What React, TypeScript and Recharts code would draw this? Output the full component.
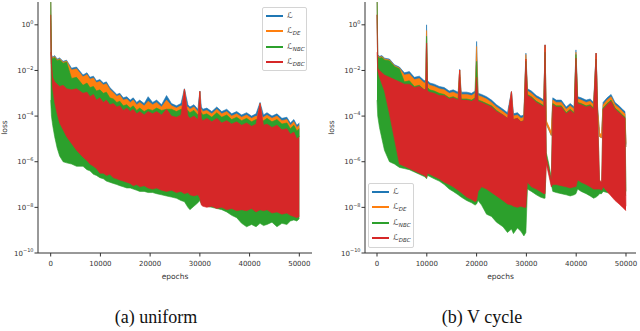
import { ComposedChart, Area, XAxis, YAxis, Legend } from "recharts";

// Values are log10(loss).
// Each series is drawn as a band (lo..top) so the dense curves read as filled regions.

// (a) uniform
const uniformEpochs = [
  0, 150, 400, 800, 1300, 1800, 2500, 3200,
  4200, 5200, 6500, 7300, 7900, 8600, 9200, 9900,
  10600, 11200, 11900, 12600, 13300, 13900, 14600, 15300,
  16000, 16600, 17300, 17900, 18800, 19600, 20500, 21300,
  22300, 23300, 24300, 25300, 26200, 26900, 27600, 28000,
  28800, 29600, 30000, 30300, 30600, 31400, 32400, 33400,
  34400, 35400, 36400, 37400, 38400, 39400, 40400, 41300,
  42100, 42800, 43500, 44500, 45500, 46500, 47500, 48200,
  48900, 49500, 50000,
];
const uniformLossTop = [
  1.5, -1.3, -1.42, -1.35, -1.5, -1.45, -1.6, -1.55,
  -1.9, -1.85, -2.2, -2.1, -2.3, -2.25, -2.45, -2.4,
  -2.55, -2.5, -2.75, -2.9, -3.05, -3.0, -3.2, -3.15,
  -3.3, -3.2, -3.4, -3.3, -3.45, -3.15, -3.4, -3.3,
  -3.5, -3.1, -3.45, -3.55, -3.45, -2.8, -3.5, -3.6,
  -3.5, -3.7, -2.9, -3.6, -3.7, -3.65, -3.8, -3.6,
  -3.8, -3.7, -3.9, -3.8, -3.95, -3.85, -4.0, -3.9,
  -3.4, -3.95, -3.85, -4.0, -3.9, -4.1, -4.05, -4.3,
  -4.15, -4.4, -4.3,
];
const uniformDeTop = [
  1.5, -1.34, -1.46, -1.39, -1.54, -1.49, -1.64, -1.59,
  -1.98, -1.93, -2.28, -2.18, -2.38, -2.33, -2.53, -2.48,
  -2.63, -2.58, -2.83, -2.98, -3.13, -3.08, -3.3, -3.25,
  -3.4, -3.3, -3.5, -3.4, -3.55, -3.35, -3.5, -3.4,
  -3.6, -3.3, -3.55, -3.65, -3.55, -3.6, -3.6, -3.7,
  -3.6, -3.8, -3.7, -3.7, -3.8, -3.75, -3.9, -3.7,
  -3.9, -3.8, -4.0, -3.9, -4.05, -3.95, -4.1, -4.0,
  -4.05, -4.05, -3.95, -4.1, -4.0, -4.2, -4.15, -4.4,
  -4.25, -4.5, -4.4,
];
const uniformNbcTop = [
  1.5, -1.38, -1.5, -1.43, -1.58, -1.53, -1.68, -1.63,
  -2.35, -2.3, -2.65, -2.55, -2.75, -2.7, -2.9, -2.85,
  -3.0, -2.95, -3.2, -3.25, -3.4, -3.35, -3.55, -3.5,
  -3.65, -3.55, -3.75, -3.65, -3.8, -3.7, -3.75, -3.65,
  -3.75, -3.7, -3.7, -3.8, -3.7, -3.75, -3.75, -3.85,
  -3.75, -3.95, -3.85, -3.85, -3.95, -3.9, -4.05, -3.85,
  -4.05, -3.95, -4.15, -4.05, -4.2, -4.1, -4.25, -4.15,
  -4.2, -4.2, -4.1, -4.25, -4.15, -4.35, -4.3, -4.55,
  -4.4, -4.65, -4.55,
];
const uniformNbcLo = [
  -3.3, -4.0, -4.4, -4.9, -5.4, -5.75, -6.0, -6.05,
  -6.1, -6.2, -6.2, -6.35, -6.4, -6.55, -6.6, -6.7,
  -6.75, -6.85, -6.9, -6.95, -7.0, -7.05, -7.1, -7.15,
  -7.15, -7.2, -7.25, -7.3, -7.3, -7.35, -7.35, -7.4,
  -7.45, -7.5, -7.55, -7.6, -7.7, -7.75, -8.0, -8.1,
  -7.95, -7.8, -7.7, -7.85, -7.9, -7.95, -8.0, -8.05,
  -8.1, -8.2, -8.35, -8.45, -8.7, -8.85, -8.75, -8.85,
  -8.7, -8.8, -8.75, -8.65, -8.85, -8.7, -8.75, -8.6,
  -8.55, -8.6, -8.5,
];
const uniformDbcTop = [
  0.44, -1.7, -2.3, -2.5, -2.6, -2.7, -2.65, -2.8,
  -2.85, -2.8, -3.0, -2.95, -3.15, -3.05, -3.3, -3.2,
  -3.4, -3.3, -3.5, -3.45, -3.6, -3.55, -3.75, -3.65,
  -3.8, -3.7, -3.9, -3.8, -3.95, -3.8, -3.9, -3.8,
  -3.95, -3.7, -4.0, -4.05, -3.95, -2.82, -4.0, -4.1,
  -4.0, -4.15, -2.92, -4.1, -4.2, -4.1, -4.25, -4.1,
  -4.3, -4.2, -4.35, -4.25, -4.4, -4.3, -4.45, -4.35,
  -3.45, -4.4, -4.35, -4.5, -4.4, -4.6, -4.55, -4.8,
  -4.7, -5.0, -4.9,
];
const uniformDbcLo = [
  -1.2, -1.9, -2.8, -3.4, -3.9, -4.3, -4.6, -4.9,
  -5.2, -5.5, -5.8, -5.95, -6.1, -6.2, -6.3, -6.5,
  -6.5, -6.6, -6.55, -6.7, -6.75, -6.8, -6.85, -6.9,
  -6.95, -7.05, -7.0, -7.1, -7.05, -7.15, -7.2, -7.15,
  -7.25, -7.3, -7.25, -7.35, -7.3, -7.4, -7.35, -7.45,
  -7.5, -7.45, -7.6, -7.9, -7.95, -8.0, -7.95, -8.05,
  -8.0, -8.1, -8.05, -8.15, -8.1, -8.15, -8.05, -8.2,
  -8.1, -8.15, -8.1, -8.25, -8.2, -8.3, -8.25, -8.35,
  -8.4, -8.45, -8.4,
];

// (b) V cycle
const vcycleEpochs = [
  0, 150, 500, 1000, 1500, 2500, 3500, 4500,
  5500, 6500, 7500, 8500, 9500, 9800, 9950, 10150,
  10600, 11500, 12500, 13500, 14500, 15300, 16300, 16600,
  16900, 18000, 19000, 19700, 20000, 20300, 21000, 22000,
  23000, 24000, 25300, 26200, 27000, 27400, 28200, 28900,
  29500, 29900, 30200, 31000, 32000, 32800, 33500, 33750,
  34000, 34500, 35000, 35300, 36000, 37000, 38000, 38800,
  39600, 39950, 40300, 41000, 42000, 42800, 43500, 44000,
  44300, 44700, 45100, 45400, 46200, 47000, 47800, 48600,
  49300, 49800, 50000,
];
const vcycleLossTop = [
  1.5, -1.3, -1.38, -1.35, -1.46, -1.5, -1.75, -1.85,
  -2.1, -2.05, -2.3, -2.25, -2.45, -2.4, 0.0, -2.45,
  -2.55, -2.6, -2.7, -2.75, -2.9, -2.85, -2.95, -1.95,
  -2.95, -2.95, -3.0, -2.9, -0.73, -3.0, -3.05, -3.15,
  -3.3, -3.5, -3.7, -3.85, -2.93, -3.9, -3.85, -4.0,
  -3.95, -1.24, -2.8, -2.9, -3.1, -3.2, -3.3, -0.88,
  -4.25, -4.5, -4.75, -3.2, -3.3, -3.3, -3.6, -3.45,
  -3.6, -1.1, -3.15, -3.2, -3.3, -3.25, -3.4, -1.24,
  -3.6, -4.8, -4.85, -3.4, -3.2, -3.05, -3.4, -3.55,
  -3.7, -3.8, -5.25,
];
const vcycleDeTop = [
  1.5, -1.34, -1.42, -1.39, -1.5, -1.54, -1.79, -1.89,
  -2.2, -2.15, -2.4, -2.35, -2.55, -2.5, -0.25, -2.55,
  -2.65, -2.7, -2.8, -2.85, -3.0, -2.95, -3.05, -2.0,
  -3.05, -3.05, -3.1, -3.0, -0.95, -3.1, -3.15, -3.25,
  -3.4, -3.6, -3.8, -3.95, -3.95, -4.0, -3.95, -4.1,
  -4.05, -1.3, -2.9, -3.0, -3.2, -3.3, -3.4, -1.0,
  -4.2, -4.45, -4.7, -3.3, -3.4, -3.4, -3.7, -3.55,
  -3.7, -1.2, -3.25, -3.3, -3.4, -3.35, -3.5, -1.4,
  -3.7, -4.75, -4.8, -3.5, -3.3, -3.15, -3.5, -3.65,
  -3.8, -3.9, -5.2,
];
const vcycleTraceLo = [
  0.44, -1.9, -2.0, -2.1, -2.2, -2.3, -2.4, -2.5,
  -2.6, -2.6, -2.75, -2.7, -2.85, -2.8, -0.8, -2.9,
  -2.95, -3.0, -3.1, -3.1, -3.25, -3.2, -3.3, -1.98,
  -3.3, -3.3, -3.35, -3.25, -2.3, -3.35, -3.4, -3.5,
  -3.6, -3.8, -3.95, -4.1, -2.93, -4.15, -4.1, -4.25,
  -4.2, -1.5, -3.1, -3.2, -3.4, -3.5, -3.6, -0.88,
  -4.35, -4.6, -4.85, -3.5, -3.6, -3.6, -3.9, -3.75,
  -3.9, -1.46, -3.45, -3.5, -3.6, -3.55, -3.7, -1.24,
  -3.9, -4.9, -4.95, -3.7, -3.5, -3.35, -3.7, -3.85,
  -4.0, -4.1, -5.35,
];
const vcycleNbcTop = [
  1.5, -1.38, -1.46, -1.43, -1.54, -1.58, -1.83, -1.93,
  -2.5, -2.45, -2.7, -2.65, -2.85, -2.8, -0.5, -2.75,
  -2.85, -2.9, -3.0, -3.05, -3.2, -3.15, -3.25, -2.3,
  -3.25, -3.25, -3.3, -3.2, -1.6, -3.3, -3.35, -3.45,
  -3.55, -3.75, -3.95, -4.1, -4.1, -4.15, -4.1, -4.25,
  -4.2, -1.6, -3.05, -3.15, -3.35, -3.45, -3.55, -1.2,
  -5.6, -6.1, -6.7, -3.45, -3.55, -3.55, -3.85, -3.7,
  -3.85, -1.3, -3.4, -3.45, -3.55, -3.5, -3.65, -1.5,
  -3.85, -7.1, -7.15, -3.65, -3.45, -3.3, -3.65, -3.8,
  -3.95, -4.05, -7.3,
];
const vcycleNbcLo = [
  -3.3, -4.0, -4.5, -5.0, -5.5, -6.0, -6.1, -6.25,
  -6.3, -6.35, -6.45, -6.55, -6.65, -6.7, -6.75, -6.6,
  -6.65, -6.75, -6.85, -7.0, -7.2, -7.3, -7.45, -7.5,
  -7.55, -7.7, -7.8, -7.9, -7.85, -7.7, -7.9, -8.3,
  -8.4, -8.65, -8.85, -9.1, -8.95, -9.15, -8.9, -9.05,
  -9.25, -9.1, -7.2, -7.3, -7.45, -7.55, -7.6, -7.6,
  -5.9, -6.4, -7.0, -7.3, -7.35, -7.4, -7.45, -7.5,
  -7.45, -7.4, -7.2, -7.3, -7.4, -7.5, -7.6, -7.55,
  -7.5, -7.4, -7.4, -7.3, -7.35, -7.4, -7.4, -7.4,
  -7.4, -7.45, -7.5,
];
const vcycleDbcTop = [
  0.44, -1.9, -2.0, -2.1, -2.2, -2.3, -2.4, -2.5,
  -2.6, -2.6, -2.75, -2.7, -2.85, -2.8, -0.8, -2.9,
  -2.95, -3.0, -3.1, -3.1, -3.25, -3.2, -3.3, -1.98,
  -3.3, -3.3, -3.35, -3.25, -2.3, -3.35, -3.4, -3.5,
  -3.6, -3.8, -3.95, -4.1, -2.93, -4.15, -4.1, -4.25,
  -4.2, -1.5, -3.1, -3.2, -3.4, -3.5, -3.6, -0.88,
  -5.8, -6.3, -6.8, -3.5, -3.6, -3.6, -3.9, -3.75,
  -3.9, -1.46, -3.45, -3.5, -3.6, -3.55, -3.7, -1.24,
  -3.9, -6.8, -6.9, -3.7, -3.5, -3.35, -3.7, -3.85,
  -4.0, -4.1, -7.95,
];
const vcycleDbcLo = [
  -1.2, -2.0, -2.3, -2.6, -2.9, -3.9, -5.0, -6.1,
  -6.2, -6.3, -6.4, -6.5, -6.6, -6.65, -6.7, -6.5,
  -6.55, -6.65, -6.75, -6.9, -7.0, -7.1, -7.25, -7.3,
  -7.35, -7.55, -7.65, -7.75, -7.7, -7.3, -7.1, -7.2,
  -7.35, -7.5, -7.7, -7.85, -7.9, -7.95, -8.0, -7.95,
  -8.0, -8.0, -6.9, -7.1, -7.2, -7.3, -7.4, -7.4,
  -6.1, -6.6, -7.1, -7.0, -7.0, -7.05, -7.1, -7.15,
  -7.1, -7.1, -6.8, -6.9, -7.0, -7.1, -7.2, -7.2,
  -7.2, -7.2, -7.25, -7.1, -7.3, -7.5, -7.7, -7.85,
  -8.0, -8.1, -8.15,
];

const seriesKeys = ["loss", "de", "nbc", "dbc"];
const seriesSubs = ["", "DE", "NBC", "DBC"];
const seriesColors = ["#1f77b4", "#ff7f0e", "#2ca02c", "#d62728"];
const yTicks = [1e-10, 1e-8, 1e-6, 1e-4, 1e-2, 1];
const xTicks = [0, 10000, 20000, 30000, 40000, 50000];

const FONT = "DejaVu Sans";
const INK = "#333";

function buildRows(
  epochs: number[],
  traceLo: number[],
  lossTop: number[],
  deTop: number[],
  nbcLo: number[],
  nbcTop: number[],
  dbcLo: number[],
  dbcTop: number[]
) {
  return epochs.map((epoch, i) => ({
    epoch,
    loss: [10 ** traceLo[i], 10 ** lossTop[i]],
    de: [10 ** traceLo[i], 10 ** deTop[i]],
    nbc: [10 ** nbcLo[i], 10 ** nbcTop[i]],
    dbc: [10 ** dbcLo[i], 10 ** dbcTop[i]],
  }));
}

const uniformRows = buildRows(
  uniformEpochs, uniformDbcTop, uniformLossTop, uniformDeTop,
  uniformNbcLo, uniformNbcTop, uniformDbcLo, uniformDbcTop
);
const vcycleRows = buildRows(
  vcycleEpochs, vcycleTraceLo, vcycleLossTop, vcycleDeTop,
  vcycleNbcLo, vcycleNbcTop, vcycleDbcLo, vcycleDbcTop
);

function PowerTick(props: any) {
  const { x, y, payload } = props;
  const exp = Math.round(Math.log10(payload.value));
  return (
    <text x={x} y={y} dy={2.5} textAnchor="end" fontSize={7} fill={INK} fontFamily={FONT}>
      10
      <tspan dy={-3.2} fontSize={5}>{exp === 0 ? "0" : "\u2212" + Math.abs(exp)}</tspan>
    </text>
  );
}

const yTitle = (gap: number) => (props: any) => {
  const { viewBox } = props;
  const x = viewBox.x + viewBox.width - gap;
  const y = viewBox.y + viewBox.height / 2;
  return (
    <text x={x} y={y} transform={`rotate(-90 ${x} ${y})`} textAnchor="middle" fontSize={7.5} fill={INK} fontFamily={FONT}>
      loss
    </text>
  );
};

function LegendBox() {
  return (
    <div
      style={{
        boxSizing: "border-box",
        width: "100%",
        height: "100%",
        border: "1px solid #d4d4d4",
        borderRadius: 2,
        background: "rgba(255,255,255,0.85)",
        padding: "0 0 0 3px",
        fontFamily: FONT,
      }}
    >
      {seriesSubs.map((sub, i) => (
        <div key={seriesKeys[i]} style={{ display: "flex", alignItems: "center", height: 15.5 }}>
          <span style={{ width: 17, height: 1.6, background: seriesColors[i], marginRight: 4 }} />
          <span style={{ fontSize: 8, color: INK, lineHeight: 1, whiteSpace: "nowrap" }}>
            ℒ
            <span style={{ fontSize: 5.5, fontStyle: "italic", position: "relative", top: 2 }}>{sub}</span>
          </span>
        </div>
      ))}
    </div>
  );
}

interface PanelProps {
  rows: ReturnType<typeof buildRows>;
  xDomain: [number, number];
  marginLeft: number;
  marginRight: number;
  titleGap: number;
  legendStyle: React.CSSProperties;
}

function LossPanel({ rows, xDomain, marginLeft, marginRight, titleGap, legendStyle }: PanelProps) {
  return (
    <ComposedChart
      width={320}
      height={300}
      data={rows}
      margin={{ top: 2, right: marginRight, bottom: 17, left: marginLeft }}
      style={{ fontFamily: FONT }}
    >
      <XAxis
        dataKey="epoch"
        type="number"
        domain={xDomain}
        ticks={xTicks}
        allowDataOverflow
        height={30}
        tickSize={3.5}
        tickMargin={5}
        tick={{ fontSize: 7, fill: INK }}
        axisLine={{ stroke: INK }}
        tickLine={{ stroke: INK }}
        label={{ value: "epochs", position: "insideBottom", offset: 4, fontSize: 7.5, fill: INK }}
      />
      <XAxis
        xAxisId="top"
        orientation="top"
        dataKey="epoch"
        type="number"
        domain={xDomain}
        height={0}
        tick={false}
        tickLine={false}
        axisLine={{ stroke: INK }}
      />
      <YAxis
        type="number"
        scale="log"
        domain={[1e-10, 10]}
        allowDataOverflow
        ticks={yTicks}
        width={36}
        tickSize={3.5}
        tickMargin={1}
        tick={<PowerTick />}
        axisLine={{ stroke: INK }}
        tickLine={{ stroke: INK }}
        label={yTitle(titleGap)}
      />
      <YAxis yAxisId="right" orientation="right" width={0} tick={false} tickLine={false} axisLine={{ stroke: INK }} />
      {seriesKeys.map((key, i) => (
        <Area
          key={key}
          dataKey={key}
          type="linear"
          stroke={seriesColors[i]}
          strokeWidth={0.6}
          fill={seriesColors[i]}
          fillOpacity={1}
          dot={false}
          activeDot={false}
          isAnimationActive={false}
        />
      ))}
      <Legend layout="horizontal" verticalAlign="middle" align="center" wrapperStyle={legendStyle} content={<LegendBox />} />
    </ComposedChart>
  );
}

const captionStyle: React.CSSProperties = {
  position: "absolute",
  top: 308,
  width: 160,
  textAlign: "center",
  fontFamily: "Liberation Serif",
  fontSize: 18,
  lineHeight: "18px",
  color: "#111",
};

export default function App() {
  return (
    <div style={{ position: "absolute", left: 0, top: 0, width: 640, height: 331, background: "#fff", overflow: "hidden" }}>
      <div style={{ position: "absolute", left: 0, top: 0 }}>
        <LossPanel
          rows={uniformRows}
          xDomain={[-2550, 52550]}
          marginLeft={2}
          marginRight={8}
          titleGap={31}
          legendStyle={{ left: 262, top: 7, width: 45, height: 64 }}
        />
      </div>
      <div style={{ position: "absolute", left: 320, top: 0 }}>
        <LossPanel
          rows={vcycleRows}
          xDomain={[-2410, 52010]}
          marginLeft={9}
          marginRight={4}
          titleGap={31}
          legendStyle={{ left: 48, top: 183, width: 46, height: 65 }}
        />
      </div>
      <div style={{ ...captionStyle, left: 76 }}>(a) uniform</div>
      <div style={{ ...captionStyle, left: 402 }}>(b) V cycle</div>
    </div>
  );
}
